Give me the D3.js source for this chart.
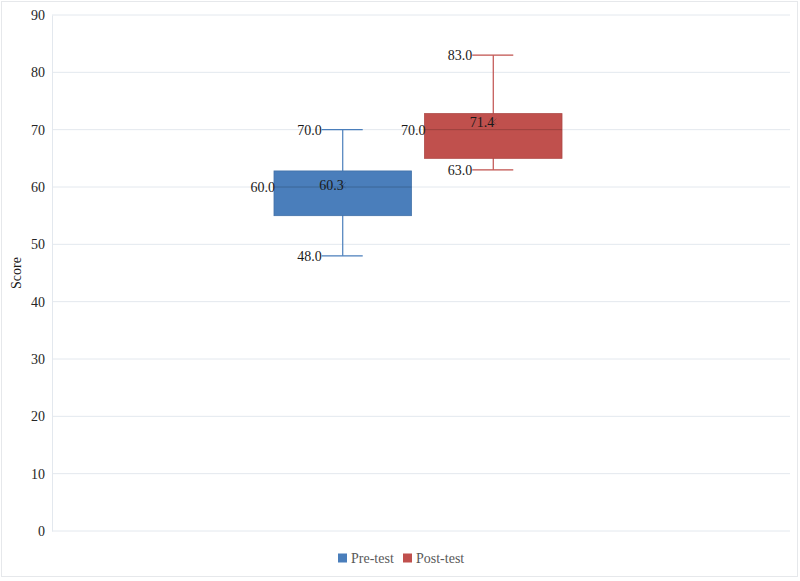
<!DOCTYPE html>
<html>
<head>
<meta charset="utf-8">
<script src="https://cdn.jsdelivr.net/npm/d3@7"></script>
<style>
  body { margin: 0; background: #fff; }
  svg { font-family: "Liberation Serif", "DejaVu Serif", serif; }
</style>
</head>
<body>
<svg id="chart" width="800" height="581"></svg>
<script>
// box plot values
var series = ["Pre-test", "Post-test"];
var mins = [48, 63];
var q1s = [55, 65];
var medians = [60, 70];
var q3s = [62.8, 72.8];
var maxs = [70, 83];
var means = [60.3, 71.4];
var colors = ["#4a7ebb", "#c0504d"];
var yTicks = [0, 10, 20, 30, 40, 50, 60, 70, 80, 90];

var svg = d3.select("#chart");

// outer chart frame
svg.append("rect")
    .attr("x", 1.5).attr("y", 1.5)
    .attr("width", 796).attr("height", 575)
    .attr("fill", "none")
    .attr("stroke", "#e6e8eb");

var plotLeft = 52, plotRight = 790, plotTop = 15, plotBottom = 531;

var y = d3.scaleLinear().domain([0, 90]).range([plotBottom, plotTop]);

// one category, two series side by side
var x = d3.scaleBand().domain(series).range([plotLeft + 222, plotRight - 228]).paddingInner(0.087);

// grid lines
svg.append("g")
    .selectAll("line")
    .data(yTicks)
    .join("line")
    .attr("x1", plotLeft).attr("x2", plotRight)
    .attr("y1", d => y(d)).attr("y2", d => y(d))
    .attr("stroke", "#e3e8ee")
    .attr("stroke-width", 1);

// y axis
var yAxis = d3.axisLeft(y).tickValues(yTicks).tickSize(0).tickPadding(7);
var gy = svg.append("g").attr("transform", "translate(" + plotLeft + ",0)").call(yAxis);
gy.select(".domain").attr("stroke", "#e3e8ee");
gy.selectAll("text")
    .attr("font-size", 14)
    .attr("fill", "#262626")
    .attr("font-family", "Liberation Serif, serif");

svg.append("text")
    .attr("transform", "translate(21," + ((plotTop + plotBottom) / 2) + ") rotate(-90)")
    .attr("text-anchor", "middle")
    .attr("font-size", 14)
    .attr("fill", "#1a1a1a")
    .text("Score");

var rows = series.map((s, i) => ({
    name: s, min: mins[i], q1: q1s[i], med: medians[i], q3: q3s[i], max: maxs[i], mean: means[i], color: colors[i]
}));

var boxes = svg.append("g").selectAll("g").data(rows).join("g");

// whiskers
boxes.append("line")
    .attr("x1", d => x(d.name) + x.bandwidth() / 2)
    .attr("x2", d => x(d.name) + x.bandwidth() / 2)
    .attr("y1", d => y(d.min)).attr("y2", d => y(d.max))
    .attr("stroke", d => d.color).attr("stroke-width", 1.2);

["min", "max"].forEach(k => {
    boxes.append("line")
        .attr("x1", d => x(d.name) + x.bandwidth() / 2 - 21)
        .attr("x2", d => x(d.name) + x.bandwidth() / 2 + 20)
        .attr("y1", d => y(d[k])).attr("y2", d => y(d[k]))
        .attr("stroke", d => d.color).attr("stroke-width", 1.2);
});

// boxes
boxes.append("rect")
    .attr("x", d => x(d.name))
    .attr("width", x.bandwidth())
    .attr("y", d => y(d.q3))
    .attr("height", d => y(d.q1) - y(d.q3))
    .attr("fill", d => d.color)
    .attr("stroke", d => d3.color(d.color).darker(0.3))
    .attr("stroke-width", 0.8);

// median line
boxes.append("line")
    .attr("x1", d => x(d.name)).attr("x2", d => x(d.name) + x.bandwidth())
    .attr("y1", d => y(d.med)).attr("y2", d => y(d.med))
    .attr("stroke", d => d3.color(d.color).darker(0.8))
    .attr("stroke-width", 0.8);

// mean marker
boxes.append("path")
    .attr("d", d => {
        var cx = x(d.name) + x.bandwidth() / 2, cy = y(d.mean);
        return "M" + (cx - 3) + "," + (cy - 3) + "L" + (cx + 3) + "," + (cy + 3) +
               "M" + (cx - 3) + "," + (cy + 3) + "L" + (cx + 3) + "," + (cy - 3);
    })
    .attr("stroke", d => d3.color(d.color).darker(0.6))
    .attr("stroke-width", 1);

// data labels
function label(xf, yf, txt, anchor) {
    boxes.append("text")
        .attr("x", xf).attr("y", yf)
        .attr("dy", "0.35em")
        .attr("text-anchor", anchor)
        .attr("font-size", 14)
        .attr("fill", "#1a1a1a")
        .text(txt);
}
label(d => x(d.name) + x.bandwidth() / 2 - 21, d => y(d.max), d => d.max.toFixed(1), "end");
label(d => x(d.name) + x.bandwidth() / 2 - 21, d => y(d.min), d => d.min.toFixed(1), "end");
label(d => x(d.name) + 1, d => y(d.med), d => d.med.toFixed(1), "end");
label(d => x(d.name) + x.bandwidth() / 2 + 1, d => y(d.mean), d => d.mean.toFixed(1), "end");

// legend
var legend = svg.append("g").attr("transform", "translate(338,558)");
var items = legend.selectAll("g").data(rows).join("g")
    .attr("transform", (d, i) => "translate(" + (i * 65) + ",0)");
items.append("rect")
    .attr("x", 0).attr("y", -4.5).attr("width", 9).attr("height", 9)
    .attr("fill", d => d.color);
items.append("text")
    .attr("x", 13).attr("y", 0).attr("dy", "0.35em")
    .attr("font-size", 14)
    .attr("fill", "#595959")
    .text(d => d.name);
</script>
</body>
</html>
